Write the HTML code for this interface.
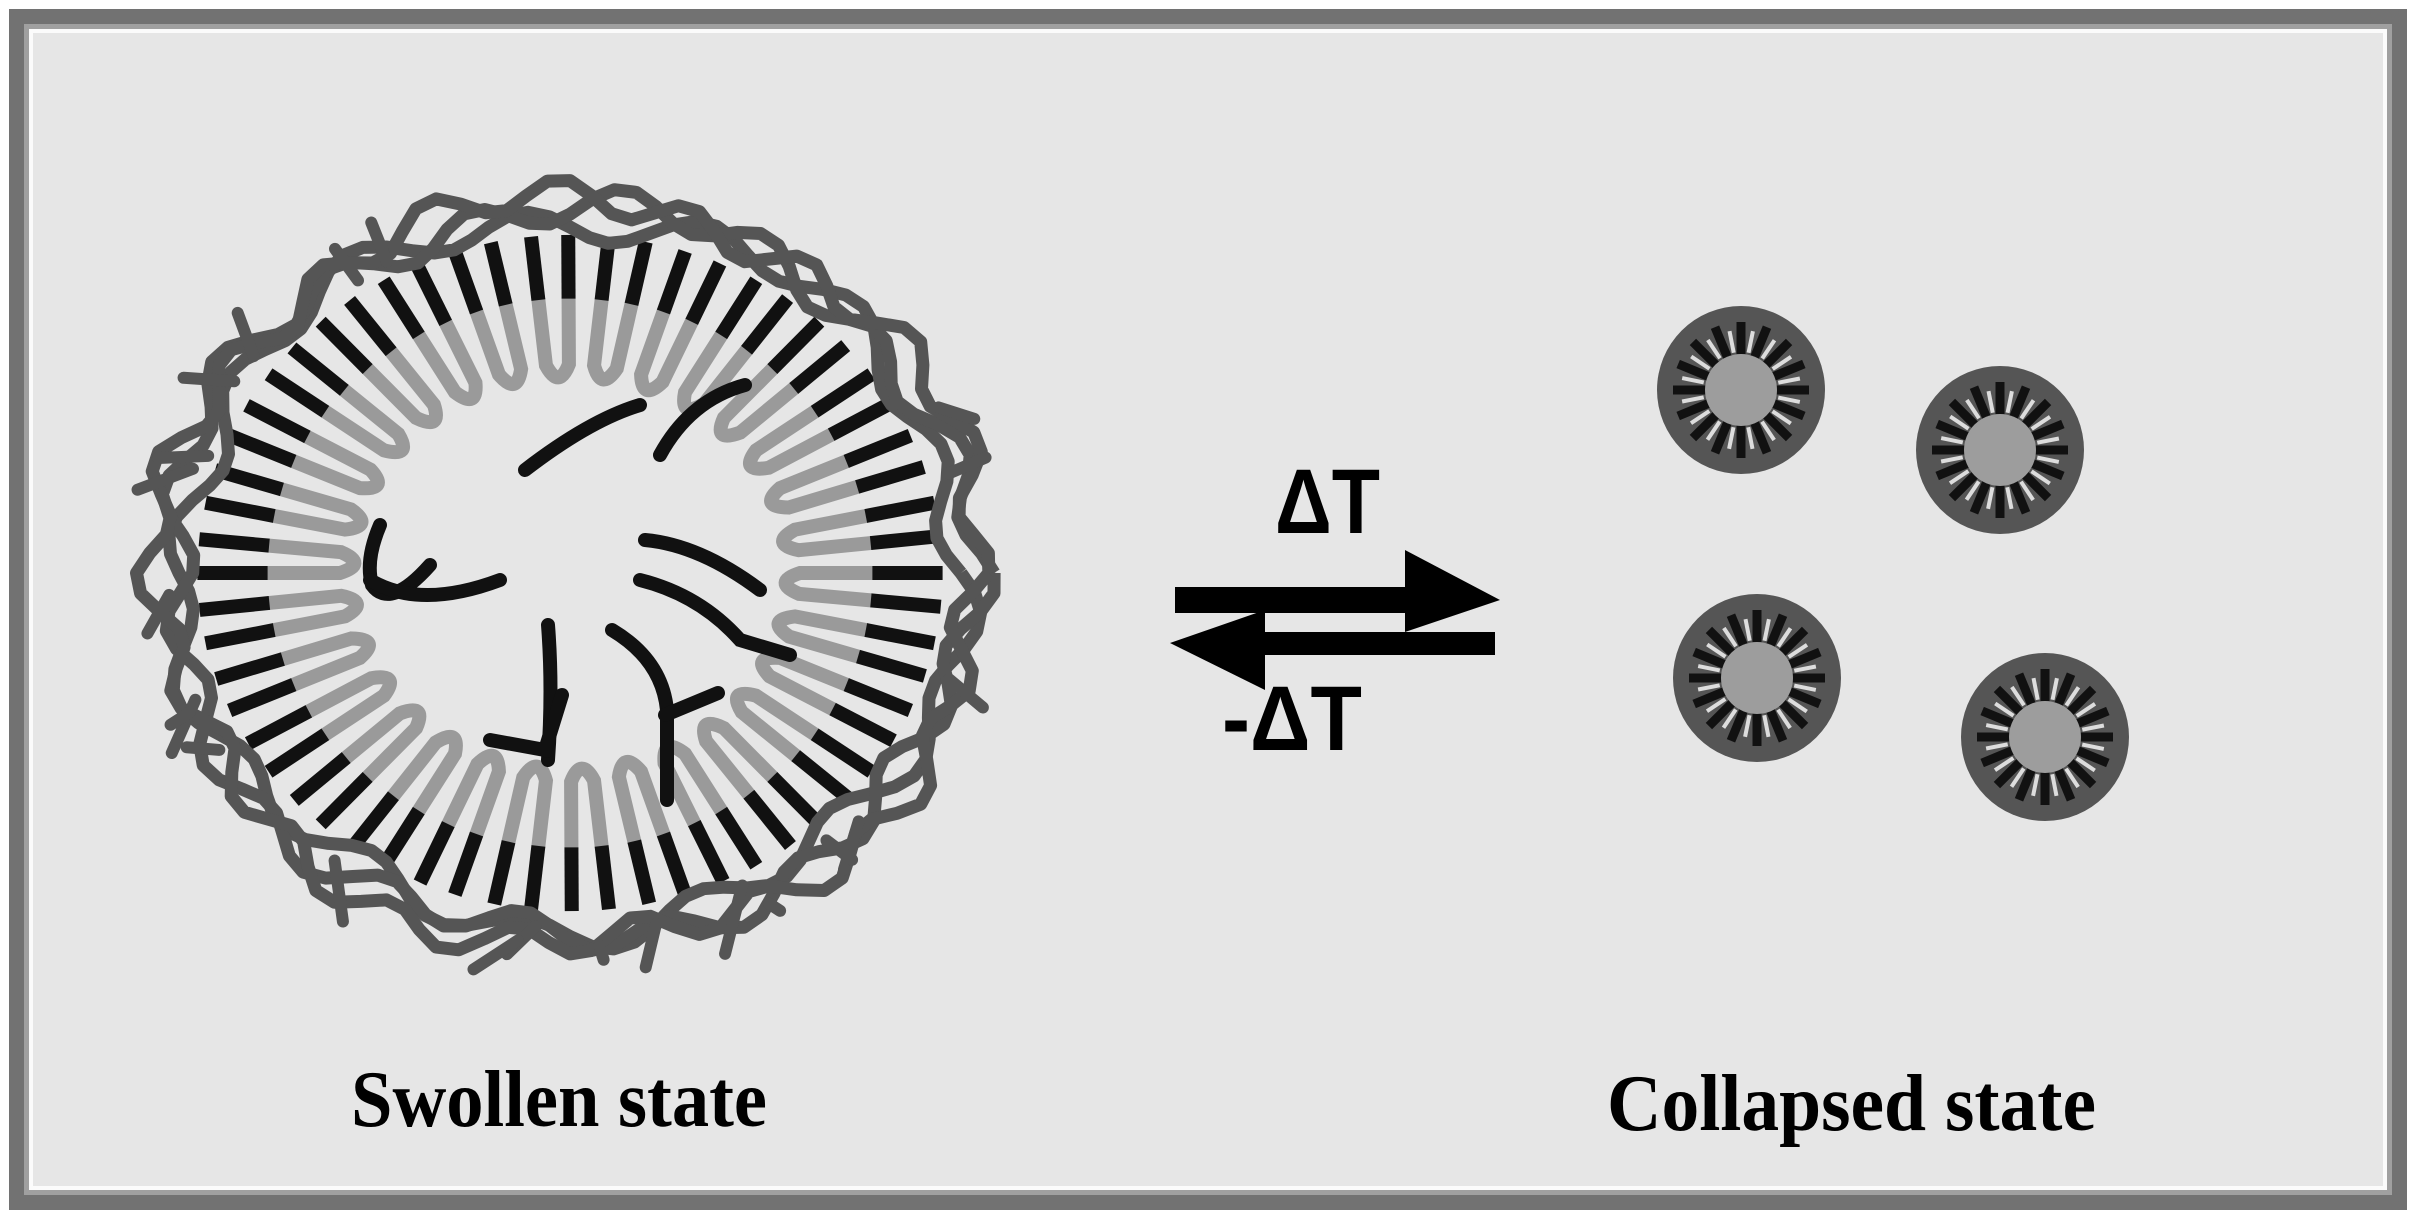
<!DOCTYPE html>
<html><head><meta charset="utf-8"><style>
html,body{margin:0;padding:0;background:#fff}
svg{display:block}
</style></head><body>
<svg id="s" width="2416" height="1219" viewBox="0 0 2416 1219" xmlns="http://www.w3.org/2000/svg">
<rect x="0" y="0" width="2416" height="1219" fill="#fff"/>
<rect x="9" y="9" width="2398" height="1201" fill="#727272"/>
<rect x="24" y="24" width="2368" height="1171" fill="#a0a0a0"/>
<rect x="29" y="29" width="2358" height="1161" fill="#fbfbfb"/>
<rect x="33" y="33" width="2350" height="1153" fill="#e6e6e6"/>
<g id="big"></g>
<g id="small"></g>
<g fill="#000">
<rect x="1175" y="587" width="240" height="26"/>
<polygon points="1405,550 1500,600 1405,632"/>
<rect x="1255" y="632" width="240" height="23"/>
<polygon points="1265,610 1170,643 1265,690"/>
</g>
<text x="1275" y="533" font-family="Liberation Sans, sans-serif" font-size="92" font-weight="bold" textLength="105" lengthAdjust="spacingAndGlyphs">ΔT</text>
<text x="1222" y="750" font-family="Liberation Sans, sans-serif" font-size="92" font-weight="bold" textLength="140" lengthAdjust="spacingAndGlyphs">-ΔT</text>
<text x="351" y="1126" font-family="Liberation Serif, serif" font-size="80" font-weight="bold" textLength="416" lengthAdjust="spacingAndGlyphs">Swollen state</text>
<text x="1607" y="1130" font-family="Liberation Serif, serif" font-size="80" font-weight="bold" textLength="489" lengthAdjust="spacingAndGlyphs">Collapsed state</text>
</svg>
<script>
(function(){
var NS="http://www.w3.org/2000/svg";
function el(p,t,a){var e=document.createElementNS(NS,t);for(var k in a)e.setAttribute(k,a[k]);p.appendChild(e);return e;}
var big=document.getElementById('big');
var cx=570,cy=573,rx=1.08,ry=0.98;
function pt(a,r){return [cx+Math.cos(a)*r*rx,cy+Math.sin(a)*r*ry];}
var N=30;
for(var i=0;i<N;i++){
  var a=i/N*Math.PI*2+0.05;
  var w=0.05;
  var ro=345,rm=280,ri=195;
  var p1=pt(a-w,ro),p2=pt(a-w,rm),p3=pt(a+w,rm),p4=pt(a+w,ro);
  var q1=pt(a-w,ri+18),q2=pt(a+w,ri+18),c=pt(a,ri-8);
  el(big,'path',{d:'M'+p2+' L'+q1+' Q'+c+' '+q2+' L'+p3,fill:'none',stroke:'#9a9a9a','stroke-width':14,'stroke-linecap':'round'});
  el(big,'line',{x1:p1[0],y1:p1[1],x2:p2[0],y2:p2[1],stroke:'#111','stroke-width':14});
  el(big,'line',{x1:p3[0],y1:p3[1],x2:p4[0],y2:p4[1],stroke:'#111','stroke-width':14});
}
var seed=7;function rnd(){seed=(seed*9301+49297)%233280;return seed/233280;}
for(var k=0;k<3;k++){
  var d='';var M=120;
  for(var j=0;j<=M;j++){
    var a=j/M*Math.PI*2;
    var r=362+k*9+Math.sin(a*(14+k*3)+k)*16+Math.sin(a*5+k*2)*9;
    var p=pt(a,r);d+=(j?'L':'M')+p[0].toFixed(1)+','+p[1].toFixed(1);
  }
  el(big,'path',{d:d,fill:'none',stroke:'#555','stroke-width':13,'stroke-linejoin':'round'});
}
for(var j=0;j<22;j++){
  var a=rnd()*Math.PI*2;var p=pt(a,355+rnd()*30),q=pt(a+(rnd()-.5)*0.25,390+rnd()*25);
  el(big,'line',{x1:p[0],y1:p[1],x2:q[0],y2:q[1],stroke:'#555','stroke-width':12,'stroke-linecap':'round'});
}
var ds=['M525,470 Q590,420 640,405','M660,455 Q690,400 745,385','M380,525 Q365,560 372,585 Q390,610 430,565','M370,580 Q420,610 500,580','M645,540 Q700,545 760,590','M640,580 Q700,595 740,640 L790,655','M548,625 Q553,690 548,760','M490,740 L545,750 L562,695','M612,630 Q662,660 667,710 L667,800','M665,715 L718,693'];
ds.forEach(function(d){el(big,'path',{d:d,fill:'none',stroke:'#111','stroke-width':14,'stroke-linecap':'round'});});
var sm=document.getElementById('small');
[[1741,390],[2000,450],[1757,678],[2045,737]].forEach(function(c){
  el(sm,'circle',{cx:c[0],cy:c[1],r:84,fill:'#555'});
  for(var i=0;i<16;i++){var a=i/16*Math.PI*2;
    var x1=c[0]+Math.cos(a)*35,y1=c[1]+Math.sin(a)*35,x2=c[0]+Math.cos(a)*68,y2=c[1]+Math.sin(a)*68;
    el(sm,'line',{x1:x1,y1:y1,x2:x2,y2:y2,stroke:'#111','stroke-width':9});
    var b=a+0.2;el(sm,'line',{x1:c[0]+Math.cos(b)*38,y1:c[1]+Math.sin(b)*38,x2:c[0]+Math.cos(b)*60,y2:c[1]+Math.sin(b)*60,stroke:'#ddd','stroke-width':4});
  }
  el(sm,'circle',{cx:c[0],cy:c[1],r:36,fill:'#9d9d9d'});
});
})();
</script>
</body></html>
